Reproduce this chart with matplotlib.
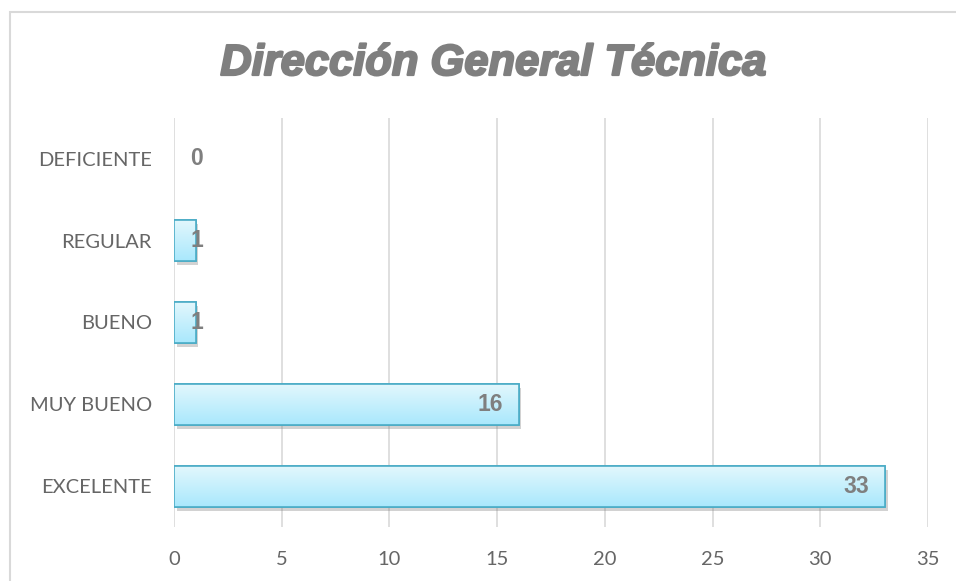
import numpy as np
import matplotlib.pyplot as plt
from matplotlib.patches import Rectangle
from matplotlib.colors import LinearSegmentedColormap
import matplotlib.patheffects as pe

categories = ["EXCELENTE", "MUY BUENO", "BUENO", "REGULAR", "DEFICIENTE"]
values = [33, 16, 1, 1, 0]
x_ticks = [0, 5, 10, 15, 20, 25, 30, 35]
title = "Dirección General Técnica"

fig = plt.figure(figsize=(9.56, 5.81), dpi=100)
ax = fig.add_axes([174 / 956, 1 - 527 / 581, (928 - 174) / 956, (527 - 118) / 581])

# frame round the chart
fig.patches.append(Rectangle((9.5 / 956, -0.05), 1.2, 1 - 12.5 / 581 + 0.05,
                             transform=fig.transFigure, fill=False,
                             edgecolor="#d9d9d9", linewidth=1.5))

y = np.arange(len(categories))
bars = ax.barh(y, values, height=0.5, color="#c6effc", edgecolor="#4bacc6",
               linewidth=1.2, zorder=3)

# shadows and gradient
grad = np.linspace(0, 1, 64).reshape(-1, 1)
cmap = LinearSegmentedColormap.from_list("g", ["#a9e8fc", "#e2f7fd"])
for b in bars:
    if b.get_width() <= 0:
        b.set_visible(False)
        continue
    b.set_path_effects([pe.SimplePatchShadow(offset=(2, -3), shadow_rgbFace="#7f7f7f", alpha=0.35),
                        pe.Normal()])
    x0, y0 = b.get_x(), b.get_y()
    im = ax.imshow(grad, cmap=cmap, aspect="auto", origin="lower",
                   extent=[x0, x0 + b.get_width(), y0, y0 + b.get_height()], zorder=3.5)
    im.set_clip_path(b)
    ax.add_patch(Rectangle((x0, y0), b.get_width(), b.get_height(), fill=False,
                           edgecolor="#4bacc6", linewidth=1.2, zorder=4))

for yi, v in zip(y, values):
    if v >= 5:
        ax.text(v - 0.75, yi, str(v), ha="right", va="center", fontsize=16.5,
                fontweight="bold", color="#7f7f7f", family="Liberation Sans", zorder=5)
    else:
        ax.text(1.05, yi, str(v), ha="center", va="center", fontsize=16.5,
                fontweight="bold", color="#7f7f7f", family="Liberation Sans", zorder=5)

ax.set_xlim(0, 35)
ax.set_ylim(-0.5, len(categories) - 0.5)
ax.set_xticks(x_ticks)
ax.set_yticks(y)
ax.set_yticklabels(categories)
ax.grid(axis="x", color="#d9d9d9", linewidth=1.2, zorder=0)
ax.set_axisbelow(True)
for s in ax.spines.values():
    s.set_visible(False)
ax.tick_params(length=0, labelsize=14.5, labelcolor="#666666")
ax.tick_params(axis="y", pad=16)
ax.tick_params(axis="x", pad=17)
for lbl in ax.get_xticklabels() + ax.get_yticklabels():
    lbl.set_family("Lato")

fig.text(494 / 956, 1 - 64 / 581, title, ha="center", va="center", fontsize=31.3,
         fontweight="bold", fontstyle="italic", color="#7f7f7f", family="Liberation Sans",
         path_effects=[pe.withStroke(linewidth=1.6, foreground="#7f7f7f")])

fig.savefig("out.png", dpi=100)
